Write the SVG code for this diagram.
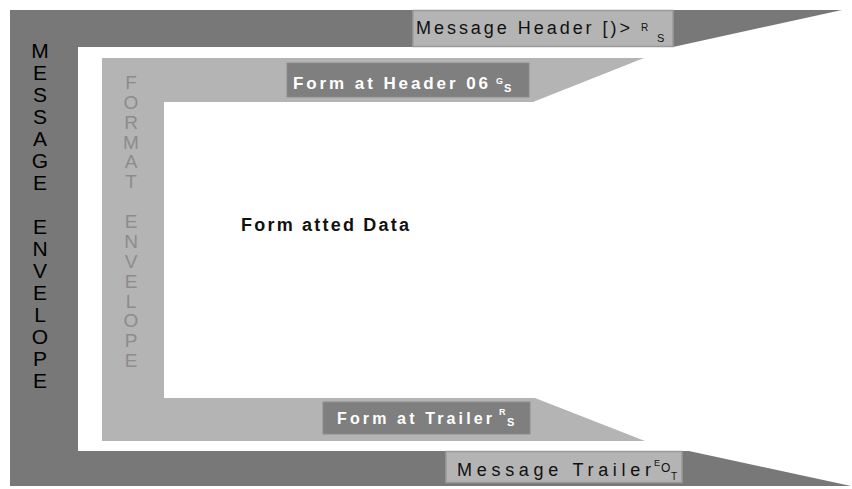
<svg xmlns="http://www.w3.org/2000/svg" width="852" height="489" viewBox="0 0 852 489">
<style>
.dark{fill:#787878}
.light{fill:#b4b4b4}
.lbox{fill:#b4b4b4;stroke:#9a9a9a;stroke-width:1.5}
.dbox{fill:#7f7f7f;stroke:#8c8c8c;stroke-width:1}
.blk{font-family:"Liberation Sans",Arial,sans-serif;fill:#111}
.wht{font-family:"Liberation Sans",Arial,sans-serif;fill:#fff;font-weight:bold}
.vert1{font-family:"Liberation Sans",Arial,sans-serif;fill:#000;font-size:21px;text-anchor:middle}
.vert2{font-family:"Liberation Sans",Arial,sans-serif;fill:#8c8c8c;font-size:19px;text-anchor:middle}
</style>
<rect width="852" height="489" fill="#fff"/>
<g id="message-envelope">
<path class="dark" d="M10,10 L842,10 L673,47 L78,47 L78,451 L689,451 L851,486 L10,486 Z"/>
<text class="vert1"><tspan x="40" y="58">M</tspan><tspan x="40" y="80">E</tspan><tspan x="40" y="102">S</tspan><tspan x="40" y="124">S</tspan><tspan x="40" y="146">A</tspan><tspan x="40" y="168">G</tspan><tspan x="40" y="190">E</tspan><tspan x="40" y="234">E</tspan><tspan x="40" y="256">N</tspan><tspan x="40" y="278">V</tspan><tspan x="40" y="300">E</tspan><tspan x="40" y="322">L</tspan><tspan x="40" y="344">O</tspan><tspan x="40" y="366">P</tspan><tspan x="40" y="388">E</tspan></text>
</g>
<g id="format-envelope">
<path class="light" d="M102,58 L644,58 L533,102 L164,102 L164,398 L535,398 L645,441 L102,441 Z"/>
<text class="vert2"><tspan x="131" y="89">F</tspan><tspan x="131" y="109">O</tspan><tspan x="131" y="129">R</tspan><tspan x="131" y="149">M</tspan><tspan x="131" y="168">A</tspan><tspan x="131" y="188">T</tspan><tspan x="131" y="228">E</tspan><tspan x="131" y="248">N</tspan><tspan x="131" y="268">V</tspan><tspan x="131" y="288">E</tspan><tspan x="131" y="308">L</tspan><tspan x="131" y="327">O</tspan><tspan x="131" y="347">P</tspan><tspan x="131" y="367">E</tspan></text>
</g>
<g id="message-header">
<rect class="lbox" x="413" y="10.5" width="260" height="36"/>
<text class="blk" x="416" y="34" font-size="18" textLength="214" lengthAdjust="spacing">Message Header [)&gt;</text>
<text class="blk" x="641" y="31" font-size="10">R</text>
<text class="blk" x="657" y="42" font-size="11">S</text>
</g>
<g id="format-header">
<rect class="dbox" x="287" y="63" width="242" height="34"/>
<text class="wht" x="293" y="89" font-size="17" textLength="195" lengthAdjust="spacing">Form at Header 06</text>
<text class="wht" x="496" y="84" font-size="9">G</text>
<text class="wht" x="504" y="92" font-size="11">S</text>
</g>
<g id="formatted-data">
<text class="blk" x="241" y="231" font-size="18" font-weight="bold" textLength="168" lengthAdjust="spacing">Form atted Data</text>
</g>
<g id="format-trailer">
<rect class="dbox" x="323" y="402" width="207" height="32"/>
<text class="wht" x="337" y="424" font-size="16" textLength="155" lengthAdjust="spacing">Form at Trailer</text>
<text class="wht" x="499" y="415" font-size="9">R</text>
<text class="wht" x="507" y="426" font-size="11">S</text>
</g>
<g id="message-trailer">
<rect class="lbox" x="446" y="451.5" width="236" height="31"/>
<text class="blk" x="457" y="476" font-size="18" textLength="194" lengthAdjust="spacing">Message Trailer</text>
<text class="blk" x="654" y="466" font-size="9">E</text>
<text class="blk" x="661" y="472" font-size="12">O</text>
<text class="blk" x="671" y="480" font-size="10">T</text>
</g>
<g id="connectors"></g>
</svg>
